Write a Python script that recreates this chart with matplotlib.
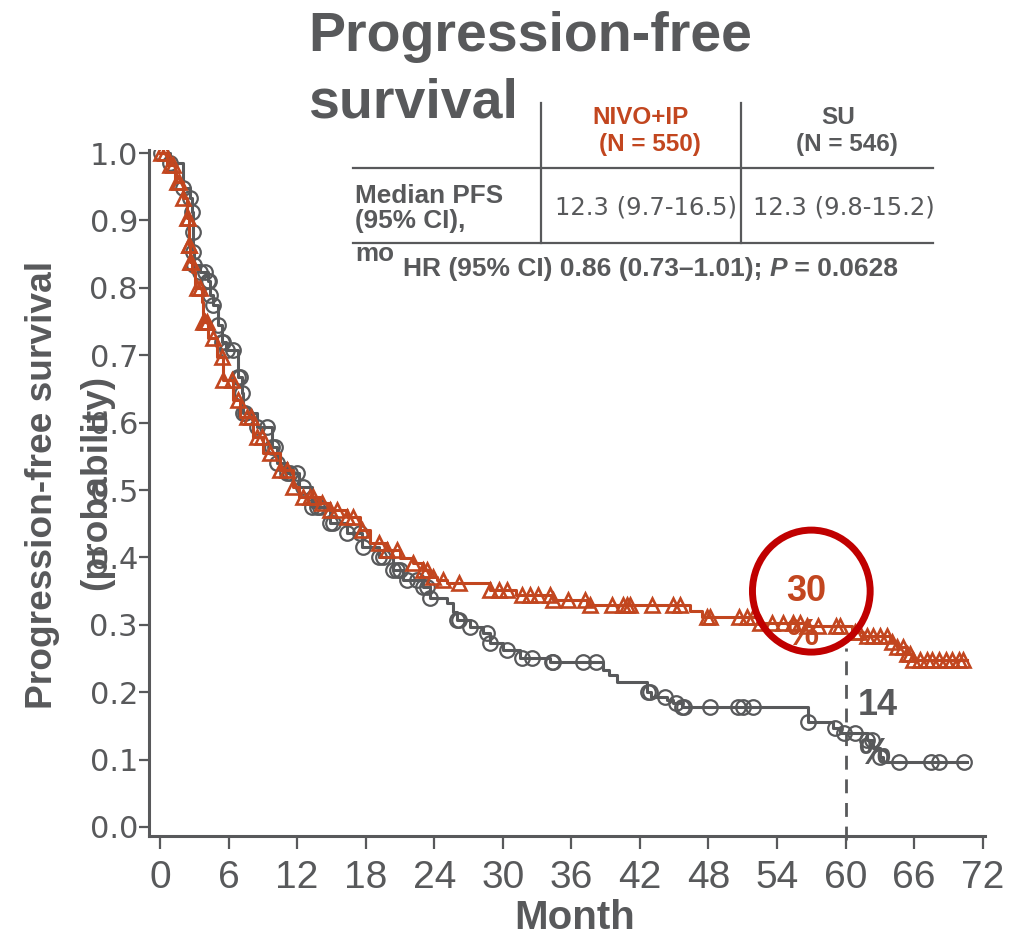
import numpy as np
import matplotlib
matplotlib.use("Agg")
import matplotlib.pyplot as plt
from matplotlib.patches import Ellipse
from matplotlib.lines import Line2D
from matplotlib import font_manager

# ---- Kaplan-Meier step data (month, progression-free probability) ----
nivo_t = [0, 0.6, 1.3, 2.0, 2.4, 2.5, 2.6, 2.8, 3.1, 3.7, 3.8, 4.2, 5.0, 5.5, 6.4,
          7.0, 8.1, 9.0, 10.5, 11.6, 12.2, 14.0, 14.9, 16.4, 17.5, 18.4, 19.9, 21.0,
          22.1, 23.0, 23.6, 24.2, 25.1, 28.9, 31.2, 34.4, 37.4, 46.4, 47.4, 52.5,
          56.5, 60.6, 61.5, 63.9, 64.5, 65.4, 65.9]
nivo_s = [1.0, 0.982, 0.957, 0.933, 0.904, 0.864, 0.838, 0.823, 0.800, 0.779, 0.749,
          0.726, 0.697, 0.663, 0.634, 0.608, 0.579, 0.555, 0.530, 0.504, 0.490, 0.481,
          0.470, 0.460, 0.440, 0.421, 0.411, 0.399, 0.392, 0.381, 0.371, 0.366, 0.362,
          0.352, 0.344, 0.337, 0.329, 0.320, 0.311, 0.303, 0.298, 0.289, 0.283, 0.275,
          0.267, 0.256, 0.248]
nivo_end = 70.6

su_t = [0, 0.9, 2.0, 2.6, 2.8, 2.85, 2.9, 2.95, 3.5, 4.2, 4.4, 4.6, 5.1, 5.4, 5.8,
        6.8, 7.2, 7.3, 8.5, 9.8, 10.2, 11.1, 12.2, 13.3, 14.9, 16.4, 17.7, 19.2, 20.4,
        21.3, 23.0, 23.6, 25.1, 25.6, 26.0, 27.1, 28.3, 28.9, 30.0, 31.5, 34.1, 38.8,
        39.3, 40.0, 42.6, 43.0, 44.4, 44.9, 45.7, 56.7, 58.9, 59.5, 61.9, 62.4, 63.0,
        63.3]
su_s = [1.0, 0.985, 0.948, 0.933, 0.912, 0.883, 0.853, 0.834, 0.823, 0.810, 0.790,
        0.774, 0.745, 0.720, 0.708, 0.668, 0.644, 0.614, 0.593, 0.564, 0.540, 0.525,
        0.504, 0.475, 0.451, 0.436, 0.415, 0.400, 0.381, 0.366, 0.356, 0.340, 0.332,
        0.319, 0.307, 0.297, 0.288, 0.273, 0.263, 0.250, 0.245, 0.233, 0.225, 0.215,
        0.200, 0.193, 0.188, 0.184, 0.178, 0.156, 0.147, 0.139, 0.129, 0.117, 0.104,
        0.096]
su_end = 70.6

# censoring times
nivo_cens = [0.1, 0.4, 0.9, 1.1, 1.5, 1.7, 2.0, 2.4, 2.45, 2.5, 2.55, 2.6, 2.7, 3.2,
             3.5, 3.8, 3.9, 4.1, 4.6, 5.4, 5.5, 6.3, 6.8, 7.6, 8.0, 8.5, 8.9, 9.6, 10.5,
             11.1, 11.6, 12.5, 13.1, 13.4, 14.2, 14.9, 15.5, 16.4, 16.9, 17.7, 19.2,
             19.9, 20.7, 22.1, 23.0, 23.4, 23.9, 24.8, 26.2, 28.9, 29.7, 30.4, 31.7,
             32.4, 33.1, 34.1, 34.4, 35.7, 37.2, 37.6, 39.6, 40.5, 40.9, 41.1, 43.1,
             44.9, 45.5, 47.9, 48.1, 50.7, 51.4, 51.9, 52.5, 53.6, 54.5, 55.4, 56.0,
             56.6, 57.6, 59.2, 59.5, 60.8, 61.2, 61.9, 62.4, 63.0, 63.6, 64.1, 64.5,
             65.0, 65.4, 65.6, 65.9, 66.5, 67.1, 67.6, 68.2, 68.8, 69.3, 69.9, 70.3]
su_cens = [0.1, 0.9, 2.0, 2.6, 2.8, 2.85, 2.9, 2.95, 3.5, 3.9, 4.2, 4.25, 4.4, 4.6,
           5.1, 5.4, 5.5, 5.9, 6.4, 6.8, 7.0, 7.2, 7.3, 7.4, 8.5, 9.4, 9.8, 10.1, 10.2,
           11.1, 11.4, 12.0, 12.5, 13.3, 13.7, 14.0, 14.9, 15.1, 16.4, 17.5, 17.8,
           19.2, 19.5, 20.4, 20.7, 21.0, 21.6, 22.5, 23.0, 23.4, 23.6, 26.0, 26.2,
           27.1, 28.6, 28.9, 30.4, 31.7, 32.6, 34.3, 34.4, 37.0, 38.2, 42.7, 42.9,
           44.2, 45.2, 45.7, 45.9, 48.1, 50.6, 51.0, 51.9, 56.7, 59.1, 59.9, 60.8,
           61.9, 62.3, 63.0, 64.7, 67.5, 68.2, 70.4]

x_ticks = list(range(0, 73, 6))
y_ticks = [0.0, 0.1, 0.2, 0.3, 0.4, 0.5, 0.6, 0.7, 0.8, 0.9, 1.0]
landmark_month = 60
nivo_label = "30\n%"
su_label = "14\n%"

GRAY = "#58595B"
ORANGE = "#C2461F"
RED = "#C00000"

names = {f.name for f in font_manager.fontManager.ttflist}
NARROW = "Liberation Sans Narrow" if "Liberation Sans Narrow" in names else "Liberation Sans"
ARIAL = "Liberation Sans"
LIGHT = "DejaVu Sans"

W, H = 1026, 936
fig = plt.figure(figsize=(W / 100, H / 100), dpi=100)


def fx(x):
    return x / W


def fy(y):
    return 1 - y / H


ax = fig.add_axes([fx(149), fy(836), (985 - 149) / W, (836 - 150) / H])


def surv_at(t_arr, s_arr, times):
    t_arr = np.asarray(t_arr)
    s_arr = np.asarray(s_arr)
    idx = np.searchsorted(t_arr, np.asarray(times), side="right") - 1
    return s_arr[idx]


# SU arm
ax.step(su_t + [su_end], su_s + [su_s[-1]], where="post", color=GRAY, lw=2.2, zorder=3)
ax.plot(su_cens, surv_at(su_t, su_s, su_cens), ls="none", marker="o", ms=10.5,
        mfc="none", mec=GRAY, mew=1.6, zorder=3)

# NIVO+IP arm
ax.step(nivo_t + [nivo_end], nivo_s + [nivo_s[-1]], where="post", color=ORANGE, lw=2.2,
        zorder=4)
ax.plot(nivo_cens, surv_at(nivo_t, nivo_s, nivo_cens), ls="none", marker="^", ms=9.5,
        mfc="none", mec=ORANGE, mew=1.9, zorder=4)

# landmark line at 60 months
ax.plot([landmark_month, landmark_month], [-0.02, 0.265], color=GRAY, lw=2.0,
        ls=(0, (5, 3.5)), zorder=2, clip_on=False)

ax.set_xlim(-0.96, 72.2)
ax.set_ylim(-0.0134, 1.0045)
ax.set_xticks(x_ticks)
ax.set_yticks(y_ticks)
ax.set_xticklabels([str(v) for v in x_ticks], family=NARROW, fontsize=28, color=GRAY)
ax.set_yticklabels([f"{v:.1f}" for v in y_ticks], family=LIGHT, fontsize=22, color=GRAY)
ax.tick_params(axis="x", direction="out", length=9.5, width=1.6, color=GRAY, pad=8)
ax.tick_params(axis="y", direction="out", length=7, width=1.6, color=GRAY, pad=1)
for side in ("top", "right"):
    ax.spines[side].set_visible(False)
for side in ("left", "bottom"):
    ax.spines[side].set_color(GRAY)
    ax.spines[side].set_linewidth(2.2)

# highlight circle and landmark values
ax.add_patch(Ellipse((57.0, 0.35), 10.3, 0.181, fill=False, ec=RED, lw=5, zorder=6))
ax.text(56.6, 0.35, nivo_label.split("\n")[0], color=ORANGE, fontsize=26,
        family=ARIAL, weight="bold", ha="center", va="center", zorder=7)
ax.text(56.2, 0.284, nivo_label.split("\n")[1], color=ORANGE, fontsize=26,
        family=ARIAL, weight="bold", ha="center", va="center", zorder=2)
ax.text(62.8, 0.18, su_label.split("\n")[0], color=GRAY, fontsize=26,
        family=ARIAL, weight="bold", ha="center", va="center", zorder=7)
ax.text(62.5, 0.108, su_label.split("\n")[1], color=GRAY, fontsize=26,
        family=ARIAL, weight="bold", ha="center", va="center", zorder=2)

# title
fig.text(fx(308), fy(51), "Progression-free", family=ARIAL, weight="bold", fontsize=40,
         color=GRAY, ha="left", va="baseline")
fig.text(fx(308), fy(117), "survival", family=ARIAL, weight="bold", fontsize=40,
         color=GRAY, ha="left", va="baseline")

# axis titles
fig.text(fx(43), fy(485), "Progression-free survival", family=ARIAL, weight="bold",
         fontsize=26.7, color=GRAY, rotation=90, ha="center", va="center")
fig.text(fx(97), fy(482), "(probability)", family=ARIAL, weight="bold",
         fontsize=26.7, color=GRAY, rotation=90, ha="center", va="center")
fig.text(fx(575), fy(918), "Month", family=NARROW, weight="bold", fontsize=29,
         color=GRAY, ha="center", va="center")

# summary table
for x in (541, 741):
    fig.add_artist(Line2D([fx(x), fx(x)], [fy(103), fy(243)], color=GRAY, lw=1.6))
for y in (168, 243):
    fig.add_artist(Line2D([fx(353), fx(933)], [fy(y), fy(y)], color=GRAY, lw=1.6))

fig.text(fx(641), fy(118), "NIVO+IP", family=ARIAL, weight="bold", fontsize=17.5,
         color=ORANGE, ha="center", va="center")
fig.text(fx(650), fy(145), "(N = 550)", family=ARIAL, weight="bold", fontsize=17.5,
         color=ORANGE, ha="center", va="center")
fig.text(fx(838), fy(118), "SU", family=ARIAL, weight="bold", fontsize=17.5,
         color=GRAY, ha="center", va="center")
fig.text(fx(847), fy(145), "(N = 546)", family=ARIAL, weight="bold", fontsize=17.5,
         color=GRAY, ha="center", va="center")
fig.text(fx(355), fy(196), "Median PFS", family=ARIAL, weight="bold", fontsize=18.8,
         color=GRAY, ha="left", va="center")
fig.text(fx(355), fy(221), "(95% CI),", family=ARIAL, weight="bold", fontsize=18.8,
         color=GRAY, ha="left", va="center")
fig.text(fx(355), fy(254), "mo", family=ARIAL, weight="bold", fontsize=18.8,
         color=GRAY, ha="left", va="center")
fig.text(fx(646), fy(208), "12.3 (9.7-16.5)", family=LIGHT, fontsize=17.5,
         color=GRAY, ha="center", va="center")
fig.text(fx(844), fy(208), "12.3 (9.8-15.2)", family=LIGHT, fontsize=17.5,
         color=GRAY, ha="center", va="center")

# hazard ratio line, with an italic P
hr_parts = [("HR (95% CI) 0.86 (0.73–1.01); ", "normal"), ("P", "italic"),
            (" = 0.0628", "normal")]
fig.canvas.draw()
renderer = fig.canvas.get_renderer()
x_cur = 403
for txt, style in hr_parts:
    t = fig.text(fx(x_cur), fy(276), txt, family=ARIAL, weight="bold", style=style,
                 fontsize=19, color=GRAY, ha="left", va="baseline")
    x_cur += t.get_window_extent(renderer).width

fig.savefig("out.png", dpi=100)
